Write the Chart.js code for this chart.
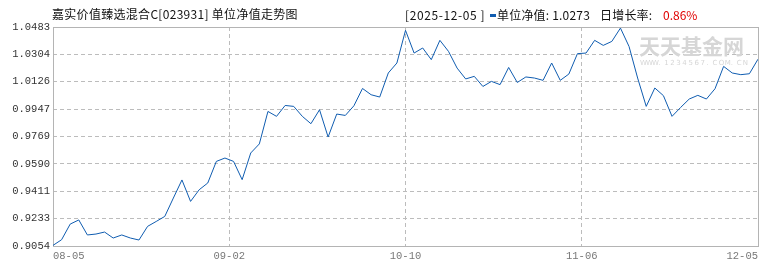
<!DOCTYPE html>
<html>
<head>
<meta charset="utf-8">
<script src="https://cdn.jsdelivr.net/npm/chart.js@4/dist/chart.umd.min.js"></script>
<style>
  body { margin: 0; background: #fff; }
  #wrap { width: 770px; height: 270px; }
</style>
</head>
<body>
<div id="wrap"><canvas id="nav" width="770" height="270"></canvas></div>
<script>
var LINE_BLUE = "#0f5cb0"
var GRID = "#bcbcbc"
var FRAME = "#b4b4b4"

var TITLE = "嘉实价值臻选混合C[023931] 单位净值走势图"
var LAST_DATE = "2025-12-05"
var LAST_NAV = "1.0273"
var LAST_CHANGE = "0.86%"

// unit NAV, one per trading day 08-05 .. 12-05
var navValues = [
  0.9058, 0.9095, 0.9197, 0.9224, 0.9126, 0.9132, 0.9145, 0.9106, 0.9126, 0.9106,
  0.9093, 0.9182, 0.9214, 0.9247, 0.9367, 0.9485, 0.9345, 0.9421, 0.9465, 0.9606,
  0.9628, 0.9606, 0.9487, 0.9661, 0.9720, 0.9932, 0.9900, 0.9971, 0.9965, 0.9900,
  0.9852, 0.9943, 0.9765, 0.9915, 0.9906, 0.9969, 1.0082, 1.0041, 1.0026, 1.0183,
  1.0248, 1.0461, 1.0313, 1.0346, 1.0270, 1.0396, 1.0324, 1.0215, 1.0144, 1.0161,
  1.0095, 1.0128, 1.0107, 1.0219, 1.0121, 1.0157, 1.0150, 1.0135, 1.0248, 1.0135,
  1.0176, 1.0309, 1.0313, 1.0396, 1.0363, 1.0389, 1.0476, 1.0356, 1.0150, 0.9965,
  1.0085, 1.0035, 0.9900, 0.9958, 1.0013, 1.0037, 1.0013, 1.0080, 1.0226, 1.0183,
  1.0172, 1.0178, 1.0273
]

var xTickLabels = ["08-05", "09-02", "10-10", "11-06", "12-05"]
var xTickAt = [0, 20.5, 41, 61.5, 82]
var yTicks = [0.9054, 0.9233, 0.9411, 0.9590, 0.9769, 0.9947, 1.0126, 1.0304, 1.0483]

var points = navValues.map(function (v, i) { return { x: i, y: v } })

var decor = {
  id: "decor",
  beforeDatasetsDraw: function (chart) {
    var ctx = chart.ctx, a = chart.chartArea
    ctx.save()
    // watermark
    ctx.fillStyle = "#d6d6d6"
    ctx.font = "bold 21px 'Noto Sans CJK SC'"
    ctx.textBaseline = "middle"
    ctx.textAlign = "left"
    ctx.fillText("天天基金网", 639, 46)
    ctx.font = "7px 'DejaVu Sans'"
    var mark = "WWW.1234567.COM.CN"
    for (var i = 0; i < mark.length; i++) {
      ctx.fillText(mark[i], 640 + i * 6.05, 63)
    }
    // frame
    ctx.strokeStyle = FRAME
    ctx.lineWidth = 1
    var l = Math.floor(a.left) + 0.5, t = Math.floor(a.top) + 0.5
    var r = Math.floor(a.right) + 0.5, b = Math.floor(a.bottom) + 0.5
    ctx.strokeRect(l, t, r - l, b - t)
    ctx.restore()
  },
  afterDraw: function (chart) {
    var ctx = chart.ctx
    ctx.save()
    ctx.textBaseline = "middle"
    ctx.textAlign = "left"
    ctx.fillStyle = "#111"
    ctx.font = "12px 'Noto Sans CJK SC'"
    ctx.letterSpacing = "0.3px"
    ctx.fillText(TITLE, 52, 14)
    ctx.letterSpacing = "0.6px"
    ctx.fillText("[" + LAST_DATE + " ]", 405, 15)
    ctx.fillStyle = LINE_BLUE
    ctx.fillRect(490, 14, 6, 3)
    ctx.fillStyle = "#111"
    ctx.letterSpacing = "0.2px"
    ctx.fillText("单位净值: " + LAST_NAV, 497, 15)
    ctx.fillText("日增长率:", 600, 15)
    ctx.fillStyle = "#e00000"
    ctx.letterSpacing = "0px"
    ctx.fillText(LAST_CHANGE, 663, 15)
    ctx.restore()
  }
}

var chart = new Chart(document.getElementById("nav"), {
  type: "line",
  data: {
    datasets: [{
      data: points,
      borderColor: LINE_BLUE,
      borderWidth: 1,
      pointRadius: 0,
      tension: 0,
      fill: false
    }]
  },
  options: {
    responsive: false,
    animation: false,
    layout: { padding: { top: 27, right: 12, left: 0, bottom: 0 } },
    plugins: { legend: { display: false }, tooltip: { enabled: false } },
    scales: {
      x: {
        type: "linear",
        min: 0,
        max: navValues.length - 1,
        afterBuildTicks: function (scale) {
          scale.ticks = xTickAt.map(function (v) { return { value: v } })
        },
        afterFit: function (scale) { scale.height = 24 },
        ticks: {
          align: "inner",
          maxRotation: 0,
          autoSkip: false,
          padding: 4,
          color: "#777",
          font: { family: "'Liberation Mono'", size: 10.5 },
          callback: function (v, i) { return xTickLabels[i] }
        },
        grid: {
          color: GRID,
          drawTicks: false
        },
        border: { display: false, dash: [4, 3] }
      },
      y: {
        min: yTicks[0],
        max: yTicks[yTicks.length - 1],
        afterBuildTicks: function (scale) {
          scale.ticks = yTicks.map(function (v) { return { value: v } })
        },
        afterFit: function (scale) { scale.width = 53 },
        ticks: {
          autoSkip: false,
          padding: 3,
          color: "#333",
          font: { family: "'Liberation Mono'", size: 10.5 },
          callback: function (v) { return Number(v).toFixed(4) }
        },
        grid: {
          color: GRID,
          drawTicks: false
        },
        border: { display: false, dash: [4, 3] }
      }
    }
  },
  plugins: [decor]
})
</script>
</body>
</html>
